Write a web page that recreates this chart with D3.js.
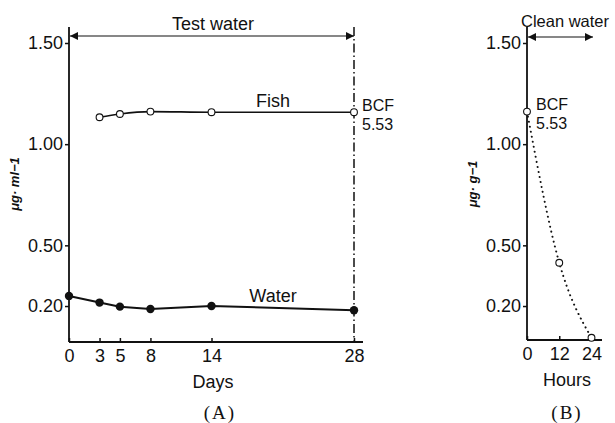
<!DOCTYPE html>
<head>
    <meta charset="utf-8">
    <title>BCF - test water / clean water</title>
    <style>
        body { margin: 0; background: #fff; }
        text { font-family: "Liberation Sans", Arial, sans-serif; fill: #111; }
        .axis text { font-size: 18px; }
        .axis line { stroke: #111; stroke-width: 1.5; }
    </style>
</head>
<body>

<svg width="615" height="423"></svg>

<script src="https://d3js.org/d3.v7.min.js"></script>

<script>
    // data
    var days = [0, 3, 5, 8, 14, 28];
    var water = [0.25, 0.217, 0.197, 0.185, 0.20, 0.179];
    var fishDays = [3, 5, 8, 14, 28];
    var fish = [1.133, 1.149, 1.161, 1.158, 1.158];
    var hours = [0, 12, 24];
    var depuration = [1.161, 0.414, 0.043];
    var yTicks = [0.20, 0.50, 1.00, 1.50];
    var dayTicks = [0, 3, 5, 8, 14, 28];
    var hourTicks = [0, 12, 24];

    var svg = d3.select("svg");

    // shared concentration scale
    var y = d3.scaleLinear().domain([0, 1.5]).range([346.5, 43]);

    var xA = d3.scaleLinear().domain([0, 28]).range([69, 354]);
    var xB = d3.scaleLinear().domain([0, 24]).range([527, 591.5]);

    // arrowheads
    var defs = svg.append("defs");
    defs.append("marker")
        .attr("id", "arr")
        .attr("viewBox", "0 0 10 10")
        .attr("refX", 10).attr("refY", 5)
        .attr("markerWidth", 11).attr("markerHeight", 8)
        .attr("markerUnits", "userSpaceOnUse")
        .attr("orient", "auto-start-reverse")
      .append("path")
        .attr("d", "M0,0L10,5L0,10Z")
        .attr("fill", "#111");

    function panel(x, xTicks, axisY, xEnd, yLabel, xLabel, tag, labelX, tagX) {
        var g = svg.append("g");

        // y axis
        g.append("g")
            .attr("class", "axis")
            .attr("transform", "translate(" + x.range()[0] + ",0)")
            .call(d3.axisLeft(y).tickValues(yTicks).tickFormat(d3.format(".2f")).tickSize(4).tickPadding(2))
            .select(".domain").remove();

        g.append("line")
            .attr("x1", x.range()[0]).attr("x2", x.range()[0])
            .attr("y1", 27).attr("y2", axisY)
            .attr("stroke", "#111").attr("stroke-width", 1.8);

        // x axis
        g.append("g")
            .attr("class", "axis")
            .attr("transform", "translate(0," + axisY + ")")
            .call(d3.axisBottom(x).tickValues(xTicks).tickSizeInner(-4).tickSizeOuter(0).tickPadding(7))
            .select(".domain").remove();

        g.append("line")
            .attr("x1", x.range()[0]).attr("x2", xEnd)
            .attr("y1", axisY).attr("y2", axisY)
            .attr("stroke", "#111").attr("stroke-width", 1.8);

        g.append("text")
            .attr("transform", "translate(" + (x.range()[0] - 50) + ",184) rotate(-90)")
            .attr("text-anchor", "middle")
            .attr("font-size", 13)
            .attr("font-style", "italic")
            .attr("font-weight", "bold")
            .text(yLabel);

        g.append("text")
            .attr("x", labelX).attr("y", axisY + 46)
            .attr("text-anchor", "middle")
            .attr("font-size", 18)
            .text(xLabel);

        g.append("text")
            .attr("x", tagX).attr("y", 419)
            .attr("text-anchor", "middle")
            .attr("font-size", 19)
            .attr("letter-spacing", 2)
            .style("font-family", "'Liberation Serif', serif")
            .text(tag);

        return g;
    }

    // (A) uptake in test water
    var gA = panel(xA, dayTicks, 342, 363, "\u03bcg\u00b7 ml\u22121", "Days", "(A)", 213, 220);

    gA.append("line")
        .attr("x1", xA(0) + 1).attr("x2", xA(28))
        .attr("y1", 36).attr("y2", 36)
        .attr("stroke", "#111").attr("stroke-width", 1.2)
        .attr("marker-start", "url(#arr)")
        .attr("marker-end", "url(#arr)");

    gA.append("text")
        .attr("x", 213).attr("y", 30)
        .attr("text-anchor", "middle")
        .attr("font-size", 18)
        .text("Test water");

    gA.append("line")
        .attr("x1", xA(28)).attr("x2", xA(28))
        .attr("y1", 27).attr("y2", 342)
        .attr("stroke", "#111").attr("stroke-width", 1.5)
        .attr("stroke-dasharray", "9,3,1.5,3");

    gA.append("path")
        .attr("d", d3.line()(days.map(function(d, i) { return [xA(d), y(water[i])]; })))
        .attr("fill", "none").attr("stroke", "#111").attr("stroke-width", 2);

    gA.selectAll(".water")
        .data(days)
        .enter().append("circle")
            .attr("cx", function(d) { return xA(d); })
            .attr("cy", function(d, i) { return y(water[i]); })
            .attr("r", 4.2)
            .attr("fill", "#111");

    gA.append("path")
        .attr("d", d3.line().curve(d3.curveMonotoneX)(fishDays.map(function(d, i) { return [xA(d), y(fish[i])]; })))
        .attr("fill", "none").attr("stroke", "#111").attr("stroke-width", 1.6);

    gA.selectAll(".fish")
        .data(fishDays)
        .enter().append("circle")
            .attr("cx", function(d) { return xA(d); })
            .attr("cy", function(d, i) { return y(fish[i]); })
            .attr("r", 3.4)
            .attr("fill", "#fff").attr("stroke", "#111").attr("stroke-width", 1.1);

    gA.append("text").attr("x", 273).attr("y", 107)
        .attr("text-anchor", "middle").attr("font-size", 18).text("Fish");
    gA.append("text").attr("x", 273).attr("y", 302)
        .attr("text-anchor", "middle").attr("font-size", 18).text("Water");
    gA.append("text").attr("x", 362).attr("y", 111).attr("font-size", 16).text("BCF");
    gA.append("text").attr("x", 362).attr("y", 130).attr("font-size", 16).text("5.53");

    // (B) depuration in clean water
    var gB = panel(xB, hourTicks, 340, 602, "\u03bcg\u00b7 g\u22121", "Hours", "(B)", 567, 567);

    gB.append("line")
        .attr("x1", xB(0) + 1).attr("x2", 593)
        .attr("y1", 37).attr("y2", 37)
        .attr("stroke", "#111").attr("stroke-width", 1.2)
        .attr("marker-start", "url(#arr)")
        .attr("marker-end", "url(#arr)");

    gB.append("text")
        .attr("x", 521).attr("y", 27)
        .attr("font-size", 16.5)
        .text("Clean water");

    gB.append("path")
        .attr("d", d3.line().curve(d3.curveMonotoneX)(hours.map(function(d, i) { return [xB(d), y(depuration[i])]; })))
        .attr("fill", "none").attr("stroke", "#111").attr("stroke-width", 2)
        .attr("stroke-linecap", "round")
        .attr("stroke-dasharray", "0.1,5");

    gB.selectAll(".dep")
        .data(hours)
        .enter().append("circle")
            .attr("cx", function(d) { return xB(d); })
            .attr("cy", function(d, i) { return y(depuration[i]); })
            .attr("r", 3.4)
            .attr("fill", "#fff").attr("stroke", "#111").attr("stroke-width", 1.1);

    gB.append("text").attr("x", 536).attr("y", 110).attr("font-size", 16).text("BCF");
    gB.append("text").attr("x", 536).attr("y", 129).attr("font-size", 16).text("5.53");
</script>

</body>
